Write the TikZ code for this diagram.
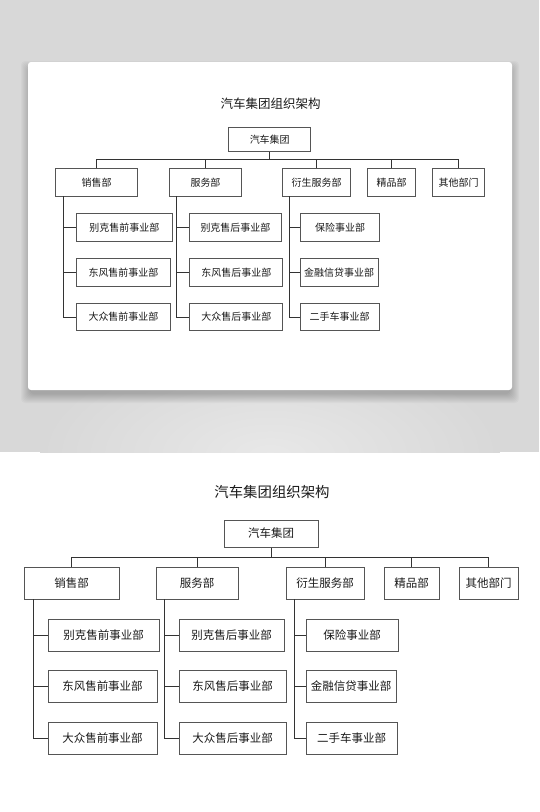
\documentclass[tikz,border=0pt]{standalone}
\usepackage{fontspec}
\setmainfont{Noto Sans CJK SC}
\definecolor{bg}{HTML}{D8D8D8}
\definecolor{bgl}{HTML}{E8E8E8}
\definecolor{txt}{HTML}{1A1A1A}
\definecolor{boxc}{HTML}{555555}
\definecolor{linec}{HTML}{333333}
\tikzset{
  box/.style={draw=boxc, line width=1pt, fill=white, minimum height=32, inner sep=0pt,
    text=txt, font=\fontsize{11.5}{13}\selectfont},
  ttl/.style={text=txt, inner sep=0pt, font=\fontsize{14.4}{16}\selectfont},
  link/.style={draw=linec, line width=1pt},
}
\newcommand\orgchart[1]{%
  \node[ttl] (#1t) at (272,492) {汽车集团组织架构};
  \node[box, minimum width=94, minimum height=27] (#1r) at (271,533.5) {汽车集团};
  \node[box, minimum width=95] (#1a) at (71.5,583) {销售部};
  \node[box, minimum width=82] (#1b) at (197,583) {服务部};
  \node[box, minimum width=78] (#1c) at (325,583) {衍生服务部};
  \node[box, minimum width=55] (#1d) at (411.5,583) {精品部};
  \node[box, minimum width=59] (#1e) at (488.5,583) {其他部门};
  \coordinate (#1bus) at (271,557);
  \draw[link] (#1r.south) -- (#1bus);
  \draw[link] (#1a.north) -- (#1a.north |- #1bus) -- (#1e.north |- #1bus) -- (#1e.north);
  \draw[link] (#1b.north) -- (#1b.north |- #1bus);
  \draw[link] (#1c.north) -- (#1c.north |- #1bus);
  \draw[link] (#1d.north) -- (#1d.north |- #1bus);
  % children
  \node[box, minimum width=111] (#1a1) at (103.5,635) {别克售前事业部};
  \node[box, minimum width=109] (#1a2) at (102.5,686.5) {东风售前事业部};
  \node[box, minimum width=109] (#1a3) at (102.5,738) {大众售前事业部};
  \node[box, minimum width=105] (#1b1) at (231.5,635) {别克售后事业部};
  \node[box, minimum width=107] (#1b2) at (232.5,686.5) {东风售后事业部};
  \node[box, minimum width=107] (#1b3) at (232.5,738) {大众售后事业部};
  \node[box, minimum width=92] (#1c1) at (352,635) {保险事业部};
  \node[box, minimum width=90] (#1c2) at (351,686.5) {金融信贷事业部};
  \node[box, minimum width=91] (#1c3) at (351.5,738) {二手车事业部};
  \coordinate (#1as) at (33,599);
  \coordinate (#1bs) at (164,599);
  \coordinate (#1cs) at (294,599);
  \draw[link] (#1as) |- (#1a3.west);
  \draw[link] (#1as |- #1a1.west) -- (#1a1.west);
  \draw[link] (#1as |- #1a2.west) -- (#1a2.west);
  \draw[link] (#1bs) |- (#1b3.west);
  \draw[link] (#1bs |- #1b1.west) -- (#1b1.west);
  \draw[link] (#1bs |- #1b2.west) -- (#1b2.west);
  \draw[link] (#1cs) |- (#1c3.west);
  \draw[link] (#1cs |- #1c1.west) -- (#1c1.west);
  \draw[link] (#1cs |- #1c2.west) -- (#1c2.west);
}
\begin{document}
\begin{tikzpicture}[x=1pt, y=-1pt]
  \useasboundingbox (0,0) rectangle (539,812);
  \fill[white] (0,0) rectangle (539,812);
  % gray backdrop
  \fill[bg] (0,0) rectangle (539,452);
  \begin{scope}
    \clip (0,0) rectangle (539,452);
    \shade[inner color=bgl, outer color=bg] (270,455) ellipse (230 and 110);
  \end{scope}
  % card shadow
  \foreach \i in {1,...,10} {
    \fill[black, opacity=0.022, rounded corners=4]
      (28-\i+3, 62-\i+9) rectangle (512+\i-3, 390+\i+3);
  }
  \fill[white, rounded corners=3] (28,62) rectangle (512,390);
  % small chart on the card
  \begin{scope}[shift={(34.5,-323.5)}, scale=0.868, transform shape]
    \orgchart{u}
  \end{scope}
  % large chart
  \orgchart{w}
\end{tikzpicture}
\end{document}
